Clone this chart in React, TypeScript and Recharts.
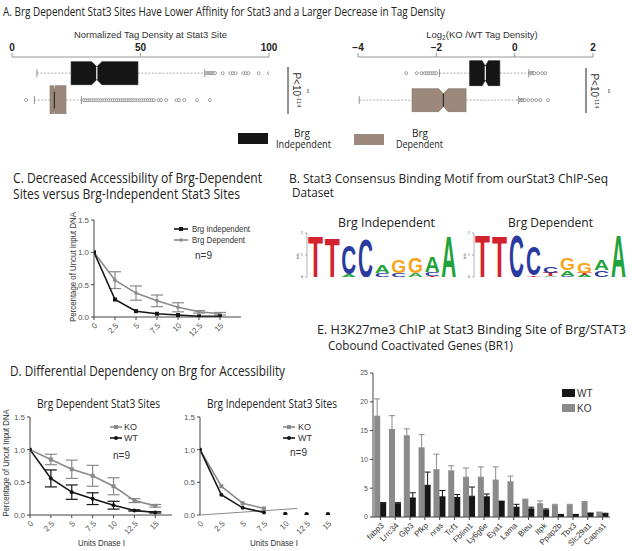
import React from 'react';
import {
  BarChart,
  Bar,
  ComposedChart,
  LineChart,
  Line,
  XAxis,
  YAxis,
  ErrorBar,
  ReferenceLine,
} from 'recharts';

const TITLE_FONT = '"Open Sans", "Noto Sans", sans-serif';
const AXIS_FONT = '"Liberation Sans", Arial, sans-serif';
const BLACK = '#161616';
const BROWN = '#9c897b';
const GREY = '#8a8a8a';

// ---- A. boxplots (tag density and log2 KO/WT)
const BOX_ROWS = ['Brg Independent', 'Brg Dependent'];
const TAG_TICKS = [0, 50, 100];
const TAG_WHISKERS = [[9.7, 75], [8.7, 27]];
const TAG_QUARTILES = [[23, 49], [14.8, 21]];
const TAG_MEDIANS = [33, 16.5];
const TAG_NOTCHES = [[31, 35], [16.2, 16.8]];
const TAG_OUTLIERS = [
  [75.5, 76, 76.5, 77, 77.5, 78, 78.5, 79, 82, 85, 86, 87, 90, 91, 92, 96, 100, 103],
  [
    5.5, 28, 28.8, 29.6, 30.4, 31.2, 32, 32.8, 33.6, 34.4, 35.2, 36, 36.8, 37.6, 38.4, 39.2,
    40, 40.8, 41.6, 42.4, 43.2, 44, 44.8, 45.6, 46.4, 47.2, 48, 48.8, 49.6, 50.4, 51.2, 52,
    52.8, 53.6, 54.4, 55.2, 57, 58, 60, 64, 65, 67, 72, 77,
  ],
];
const LOG_TICKS = [-4, -2, 0, 2];
const LOG_WHISKERS = [[-1.92, 0.36], [-3.97, 0.1]];
const LOG_QUARTILES = [[-1.15, -0.38], [-2.62, -1.24]];
const LOG_MEDIANS = [-0.75, -1.82];
const LOG_NOTCHES = [[-0.83, -0.67], [-1.94, -1.7]];
const LOG_OUTLIERS = [
  [-2.77, -2.5, -2.38, -2.3, -2.25, -2.2, -2.15, -2.1, -2.05, -2.0, 0.4, 0.42, 0.45, 0.48, 0.5, 0.6, 0.7, 0.78],
  [
    -4.95, -4.9, -4.85, -4.8, -4.75, -4.7, -4.65, -4.6, -4.55, -4.5, -4.45, -4.4, -4.35, -4.3,
    -4.25, -4.2, -4.15, -4.1, -4.05, 0.12, 0.15, 0.18, 0.2, 0.23, 0.26, 0.35, 0.45, 0.55, 0.65, 0.85,
  ],
];

// ---- C. accessibility
const DNASE_UNITS = [0, 2.5, 5, 7.5, 10, 12.5, 15];
const C_INDEP = [1.0, 0.27, 0.09, 0.05, 0.03, 0.01, 0.01];
const C_DEP = [1.0, 0.57, 0.37, 0.25, 0.15, 0.08, 0.05];
const C_DEP_ERR = [0, 0.13, 0.11, 0.09, 0.07, 0.02, 0.02];

// ---- D. KO vs WT accessibility
const D_DEP_KO = [1.0, 0.85, 0.7, 0.6, 0.44, 0.22, 0.14];
const D_DEP_KO_ERR = [0, 0.08, 0.14, 0.16, 0.13, 0.03, 0.02];
const D_DEP_WT = [1.0, 0.56, 0.35, 0.25, 0.15, 0.07, 0.04];
const D_DEP_WT_ERR = [0, 0.13, 0.11, 0.09, 0.06, 0.01, 0.01];
const D_IND_KO = [1.0, 0.44, 0.18, 0.1, null, null, null];
const D_IND_WT = [1.0, 0.31, 0.11, 0.04, null, null, null];
const D_IND_WT_TAIL = [null, null, null, null, 0.015, 0.012, 0.012];
const D_IND_BASE_X = [0, 11.4];
const D_IND_BASE_Y = [0, 0.1];

// ---- B. motif logos (letters stacked bottom -> top)
const MOTIF_POS = [1, 2, 3, 4, 5, 6, 7, 8, 9];
const INDEP_LETTERS = ['T', 'T', 'AC', 'C', 'CA', 'CG', 'AG', 'TCA', 'A'];
const INDEP_BITS = [[1.9], [1.8], [0.12, 1.3], [1.75], [0.2, 0.35], [0.2, 0.6], [0.2, 0.7], [0.05, 0.2, 0.75], [1.9]];
const DEP_LETTERS = ['T', 'T', 'C', 'TC', 'ATC', 'CAG', 'ATG', 'CA', 'A'];
const DEP_BITS = [[1.95], [1.9], [1.95], [0.08, 1.3], [0.05, 0.15, 0.3], [0.05, 0.25, 0.55], [0.1, 0.1, 0.45], [0.3, 0.5], [1.95]];

// ---- E. H3K27me3 ChIP
const GENES = [
  'fabp3', 'Lrrc34', 'Gjb3', 'Pfkp', 'nras', 'Tcf1', 'Fblim1', 'Ly6g6e',
  'Eya1', 'Lama', 'Bleu', 'Itpk', 'Ppap2b', 'Tbx3', 'Slc29a1', 'Capns1',
];
const E_KO = [17.5, 15.2, 14.1, 12.0, 8.2, 8.0, 6.9, 6.9, 6.4, 6.1, 3.0, 2.3, 2.0, 2.0, 2.5, 0.8];
const E_KO_ERR = [3.0, 2.4, 1.2, 2.3, 2.7, 0.9, 1.6, 1.8, 2.3, 1.0, 0.1, 0.5, 0.2, 0.2, 0.2, 0.05];
const E_WT = [2.4, 2.3, 3.3, 5.5, 3.5, 3.4, 3.6, 3.5, 2.7, 1.7, 1.4, 1.2, 0.4, 0.4, 0.6, 0.55];
const E_WT_ERR = [0.1, 0.2, 0.9, 2.3, 1.1, 0.5, 1.6, 0.5, 0.05, 0.5, 0.3, 0.2, 0.05, 0.05, 0.1, 0.1];

const LETTER_COLOR: Record<string, string> = { A: '#22a23a', C: '#2b3a9f', G: '#f7a51b', T: '#d3232f' };

const tagRows = BOX_ROWS.map((row, i) => ({
  row, span: TAG_WHISKERS[i], q: TAG_QUARTILES[i], med: TAG_MEDIANS[i], notch: TAG_NOTCHES[i], out: TAG_OUTLIERS[i],
}));
const logRows = BOX_ROWS.map((row, i) => ({
  row, span: LOG_WHISKERS[i], q: LOG_QUARTILES[i], med: LOG_MEDIANS[i], notch: LOG_NOTCHES[i], out: LOG_OUTLIERS[i],
}));
const cData = DNASE_UNITS.map((u, i) => ({ u, indep: C_INDEP[i], dep: C_DEP[i], depErr: C_DEP_ERR[i] }));
const dDepData = DNASE_UNITS.map((u, i) => ({
  u, ko: D_DEP_KO[i], koErr: D_DEP_KO_ERR[i], wt: D_DEP_WT[i], wtErr: D_DEP_WT_ERR[i],
}));
const dIndData = DNASE_UNITS.map((u, i) => ({ u, ko: D_IND_KO[i], wt: D_IND_WT[i], tail: D_IND_WT_TAIL[i] }));
const eData = GENES.map((gene, i) => ({
  gene, ko: E_KO[i], koErr: [0, E_KO_ERR[i]], wt: E_WT[i], wtErr: [0, E_WT_ERR[i]],
}));
const motifRows = (letters: string[], bits: number[][]) =>
  MOTIF_POS.map((pos, i) => {
    const row: any = { pos };
    bits[i].forEach((b, s) => {
      row['h' + s] = b;
      row['l' + s] = letters[i][s];
    });
    return row;
  });
const indepMotif = motifRows(INDEP_LETTERS, INDEP_BITS);
const depMotif = motifRows(DEP_LETTERS, DEP_BITS);

// box heights / fills per row
const TAG_BOX_H = [23, 29];
const LOG_BOX_H = [25, 23];
const BOX_FILL = [BLACK, BROWN];
const MEDIAN_STROKE = ['#ffffff', '#2a2a2a'];

const makeBoxShape = (boxH: number[]) => (props: any) => {
  const { x, y, width, height, payload, index } = props;
  const [lo, hi] = payload.span;
  const px = (v: number) => x + (width * (v - lo)) / (hi - lo);
  const cy = y + height / 2;
  const h = boxH[index];
  const top = cy - h / 2;
  const bot = cy + h / 2;
  const x1 = px(payload.q[0]);
  const x2 = px(payload.q[1]);
  const n1 = px(payload.notch[0]);
  const n2 = px(payload.notch[1]);
  const m = px(payload.med);
  const ind = h * 0.22;
  const pts = `${x1},${top} ${n1},${top} ${m},${top + ind} ${n2},${top} ${x2},${top} ${x2},${bot} ${n2},${bot} ${m},${bot - ind} ${n1},${bot} ${x1},${bot}`;
  return (
    <g>
      <line x1={px(lo)} x2={x1} y1={cy} y2={cy} stroke="#999" strokeWidth={0.8} strokeDasharray="2 1.5" />
      <line x1={x2} x2={px(hi)} y1={cy} y2={cy} stroke="#999" strokeWidth={0.8} strokeDasharray="2 1.5" />
      <line x1={px(lo)} x2={px(lo)} y1={cy - 4} y2={cy + 4} stroke="#777" strokeWidth={0.8} />
      <line x1={px(hi)} x2={px(hi)} y1={cy - 4} y2={cy + 4} stroke="#777" strokeWidth={0.8} />
      <polygon points={pts} fill={BOX_FILL[index]} stroke={index === 0 ? BLACK : '#7d6c60'} strokeWidth={0.6} />
      <line x1={m} x2={m} y1={top + ind} y2={bot - ind} stroke={MEDIAN_STROKE[index]} strokeWidth={1.2} />
      {payload.out.map((v: number, k: number) => (
        <circle key={k} cx={px(v)} cy={cy} r={1.5} fill="#fff" stroke="#666" strokeWidth={0.6} />
      ))}
    </g>
  );
};

const letterShape = (slot: number) => (props: any) => {
  const { x, y, width, height, payload } = props;
  const ch = payload['l' + slot];
  if (!ch || !(height > 0.3)) return <g />;
  return (
    <text
      x={0}
      y={0}
      transform={`translate(${x},${y + height}) scale(${width / 70},${height / 72})`}
      fontSize={100}
      fontWeight={700}
      fontFamily={AXIS_FONT}
      textLength={70}
      lengthAdjust="spacingAndGlyphs"
      fill={LETTER_COLOR[ch]}
    >
      {ch}
    </text>
  );
};

const squareDot = (color: string, s: number) => (p: any) =>
  p.cy == null ? <g key={p.index} /> : <rect key={p.index} x={p.cx - s / 2} y={p.cy - s / 2} width={s} height={s} fill={color} />;
const circleDot = (color: string, r: number) => (p: any) =>
  p.cy == null ? <g key={p.index} /> : <circle key={p.index} cx={p.cx} cy={p.cy} r={r} fill={color} />;

const tickStyle = { fontSize: 8, fill: '#555', fontFamily: AXIS_FONT };
const axisStroke = { stroke: '#444' };

function BoxPanel({ rows, ticks, domain, boxH, tickFmt }: any) {
  return (
    <ComposedChart layout="vertical" width={rows === tagRows ? 300 : 312} height={89} data={rows}
      margin={{ top: 12, right: rows === tagRows ? 31 : 39, bottom: 0, left: rows === tagRows ? 12 : 38 }}>
      <XAxis type="number" orientation="top" domain={domain} ticks={ticks} height={20} allowDataOverflow
        tickFormatter={tickFmt}
        tick={{ fontSize: 10, fontWeight: 700, fill: '#222', fontFamily: AXIS_FONT }}
        axisLine={{ stroke: '#999' }} tickLine={{ stroke: '#999' }} tickSize={4} />
      <YAxis type="category" dataKey="row" hide padding={{ top: 3, bottom: 0 }} />
      <Bar dataKey="span" barSize={30} isAnimationActive={false} shape={makeBoxShape(boxH)} />
    </ComposedChart>
  );
}

export default function App() {
  const abs = (left: number, top: number): React.CSSProperties => ({ position: 'absolute', left, top });
  return (
    <div style={{ position: 'absolute', left: 0, top: 0, width: 632, height: 551, background: '#fff', overflow: 'hidden' }}>
      {/* A left */}
      <div style={abs(0, 25)}>
        <BoxPanel rows={tagRows} ticks={TAG_TICKS} domain={[0, 100]} boxH={TAG_BOX_H} />
      </div>
      {/* A right */}
      <div style={abs(320, 25)}>
        <BoxPanel rows={logRows} ticks={LOG_TICKS} domain={[-4, 2]} boxH={LOG_BOX_H}
          tickFmt={(v: number) => String(v).replace('-', '\u2212')} />
      </div>

      {/* C */}
      <div style={abs(60, 205)}>
        <LineChart width={200} height={145} data={cData} margin={{ top: 15, right: 19, bottom: 3, left: 0 }}>
          <XAxis dataKey="u" type="number" domain={[0, 17.5]} ticks={DNASE_UNITS} interval={0} angle={-45}
            textAnchor="end" height={30} tick={tickStyle} tickSize={3} axisLine={axisStroke} tickLine={axisStroke} allowDataOverflow />
          <YAxis domain={[0, 1.5]} ticks={[0, 0.5, 1, 1.5]} tickFormatter={(v: number) => v.toFixed(1)} width={34}
            tick={tickStyle} tickSize={3} axisLine={axisStroke} tickLine={axisStroke} allowDataOverflow />
          <Line dataKey="dep" stroke={GREY} strokeWidth={1.6} dot={circleDot(GREY, 1.8)} isAnimationActive={false}>
            <ErrorBar dataKey="depErr" width={6} stroke={GREY} strokeWidth={1.2} direction="y" />
          </Line>
          <Line dataKey="indep" stroke={BLACK} strokeWidth={1.6} dot={squareDot(BLACK, 4)} isAnimationActive={false} />
        </LineChart>
      </div>

      {/* B logos */}
      <div style={abs(295, 230)}>
        <BarChart width={165} height={50} data={indepMotif} margin={{ top: 3, right: 3, bottom: 3, left: 0 }} barCategoryGap={1}>
          <XAxis dataKey="pos" hide />
          <YAxis domain={[0, 2]} ticks={[0, 1, 2]} width={12} tick={{ fontSize: 4, fill: '#444' }} tickSize={2}
            axisLine={{ stroke: '#666', strokeWidth: 0.5 }} tickLine={{ stroke: '#666', strokeWidth: 0.5 }} allowDataOverflow />
          {[0, 1, 2].map((s) => (
            <Bar key={s} dataKey={'h' + s} stackId="m" shape={letterShape(s)} isAnimationActive={false} />
          ))}
        </BarChart>
      </div>
      <div style={abs(462, 230)}>
        <BarChart width={168} height={50} data={depMotif} margin={{ top: 3, right: 3, bottom: 3, left: 0 }} barCategoryGap={1}>
          <XAxis dataKey="pos" hide />
          <YAxis domain={[0, 2]} ticks={[0, 1, 2]} width={12} tick={{ fontSize: 4, fill: '#444' }} tickSize={2}
            axisLine={{ stroke: '#666', strokeWidth: 0.5 }} tickLine={{ stroke: '#666', strokeWidth: 0.5 }} allowDataOverflow />
          {[0, 1, 2].map((s) => (
            <Bar key={s} dataKey={'h' + s} stackId="m" shape={letterShape(s)} isAnimationActive={false} />
          ))}
        </BarChart>
      </div>

      {/* D left */}
      <div style={abs(0, 405)}>
        <LineChart width={180} height={145} data={dDepData} margin={{ top: 12, right: 8, bottom: 3, left: 0 }}>
          <XAxis dataKey="u" type="number" domain={[0, 17]} ticks={DNASE_UNITS} interval={0} angle={-45}
            textAnchor="end" height={32} tick={tickStyle} tickSize={3} axisLine={axisStroke} tickLine={axisStroke} allowDataOverflow />
          <YAxis domain={[0, 1.5]} ticks={[0, 0.5, 1, 1.5]} tickFormatter={(v: number) => v.toFixed(1)} width={30}
            tick={tickStyle} tickSize={3} axisLine={axisStroke} tickLine={axisStroke} allowDataOverflow />
          <Line dataKey="ko" stroke={GREY} strokeWidth={1.6} dot={squareDot(GREY, 4)} isAnimationActive={false}>
            <ErrorBar dataKey="koErr" width={6} stroke={GREY} strokeWidth={1.2} direction="y" />
          </Line>
          <Line dataKey="wt" stroke={BLACK} strokeWidth={1.6} dot={circleDot(BLACK, 2)} isAnimationActive={false}>
            <ErrorBar dataKey="wtErr" width={6} stroke={BLACK} strokeWidth={1.2} direction="y" />
          </Line>
        </LineChart>
      </div>

      {/* D right */}
      <div style={abs(170, 405)}>
        <LineChart width={180} height={145} data={dIndData} margin={{ top: 12, right: 5, bottom: 3, left: 0 }}>
          <XAxis dataKey="u" type="number" domain={[0, 17]} ticks={DNASE_UNITS} interval={0} angle={-45}
            textAnchor="end" height={32} tick={tickStyle} tickSize={3} axisLine={false} tickLine={false} allowDataOverflow />
          <YAxis domain={[0, 1.5]} ticks={[0, 0.5, 1, 1.5]} tickFormatter={(v: number) => v.toFixed(1)} width={30}
            tick={tickStyle} tickSize={3} axisLine={axisStroke} tickLine={axisStroke} allowDataOverflow />
          <ReferenceLine
            segment={[
              { x: D_IND_BASE_X[0], y: D_IND_BASE_Y[0] },
              { x: D_IND_BASE_X[1], y: D_IND_BASE_Y[1] },
            ]}
            stroke="#888" strokeWidth={1} ifOverflow="visible" />
          <Line dataKey="ko" stroke={GREY} strokeWidth={1.6} dot={squareDot(GREY, 4)} isAnimationActive={false} />
          <Line dataKey="wt" stroke={BLACK} strokeWidth={1.6} dot={circleDot(BLACK, 2)} isAnimationActive={false} />
          <Line dataKey="tail" stroke="none" dot={circleDot(BLACK, 2.2)} isAnimationActive={false} />
        </LineChart>
      </div>

      {/* E */}
      <div style={abs(330, 360)}>
        <BarChart width={290} height={190} data={eData} margin={{ top: 13, right: 10, bottom: 3, left: 0 }}
          barCategoryGap="8%" barGap={0}>
          <XAxis dataKey="gene" interval={0} angle={-45} textAnchor="end" height={30}
            tick={{ fontSize: 8, fill: '#333', fontFamily: AXIS_FONT }} tickSize={3} axisLine={axisStroke} tickLine={axisStroke} />
          <YAxis domain={[0, 25]} ticks={[0, 5, 10, 15, 20, 25]} width={43} tick={{ fontSize: 7, fill: '#555', fontFamily: AXIS_FONT }}
            tickSize={3} axisLine={axisStroke} tickLine={axisStroke} allowDataOverflow />
          <Bar dataKey="ko" fill={GREY} isAnimationActive={false}>
            <ErrorBar dataKey="koErr" width={3} stroke={GREY} strokeWidth={1} direction="y" />
          </Bar>
          <Bar dataKey="wt" fill={BLACK} isAnimationActive={false}>
            <ErrorBar dataKey="wtErr" width={3} stroke={BLACK} strokeWidth={1} direction="y" />
          </Bar>
        </BarChart>
      </div>

      {/* titles, labels, legends */}
      <svg width={632} height={551} style={{ position: 'absolute', left: 0, top: 0, pointerEvents: 'none' }}>
        <g fontFamily={TITLE_FONT} fill="#222">
          <text x={3} y={16} fontSize={13} textLength={442} lengthAdjust="spacingAndGlyphs">
            A. Brg Dependent Stat3 Sites Have Lower Affinity for Stat3 and a Larger Decrease in Tag Density
          </text>
          <text x={13} y={183} fontSize={14} textLength={249} lengthAdjust="spacingAndGlyphs">C. Decreased Accessibility of Brg-Dependent</text>
          <text x={13} y={199} fontSize={14} textLength={227} lengthAdjust="spacingAndGlyphs">Sites versus Brg-Independent Stat3 Sites</text>
          <text x={289} y={183} fontSize={13} textLength={319} lengthAdjust="spacingAndGlyphs">B. Stat3 Consensus Binding Motif from ourStat3 ChIP-Seq</text>
          <text x={292} y={197} fontSize={13} textLength={42} lengthAdjust="spacingAndGlyphs">Dataset</text>
          <text x={338} y={227} fontSize={12} textLength={97} lengthAdjust="spacingAndGlyphs">Brg Independent</text>
          <text x={508} y={227} fontSize={12} textLength={85} lengthAdjust="spacingAndGlyphs">Brg Dependent</text>
          <text x={10} y={376} fontSize={14} textLength={275} lengthAdjust="spacingAndGlyphs">D. Differential Dependency on Brg for Accessibility</text>
          <text x={37} y={408} fontSize={12} textLength={123} lengthAdjust="spacingAndGlyphs">Brg Dependent Stat3 Sites</text>
          <text x={207} y={408} fontSize={12} textLength={130} lengthAdjust="spacingAndGlyphs">Brg Independent Stat3 Sites</text>
          <text x={317} y={334} fontSize={13} textLength={309} lengthAdjust="spacingAndGlyphs">E.  H3K27me3 ChIP at Stat3 Binding Site  of Brg/STAT3</text>
          <text x={328} y={350} fontSize={13} textLength={185} lengthAdjust="spacingAndGlyphs">Cobound Coactivated Genes (BR1)</text>
          {/* A legend */}
          <rect x={238} y={133} width={30} height={11} fill={BLACK} />
          <text x={302} y={137} fontSize={10} textAnchor="middle">Brg</text>
          <text x={276} y={148} fontSize={10} textLength={55} lengthAdjust="spacingAndGlyphs">Independent</text>
          <rect x={354} y={134} width={30} height={11} fill={BROWN} />
          <text x={420} y={137} fontSize={10} textAnchor="middle">Brg</text>
          <text x={396} y={148} fontSize={10} textLength={47} lengthAdjust="spacingAndGlyphs">Dependent</text>
        </g>
        <g fontFamily={AXIS_FONT} fill="#333">
          <text x={74} y={38} fontSize={9.5} textLength={153} lengthAdjust="spacingAndGlyphs">Normalized Tag Density at Stat3 Site</text>
          <text x={482} y={38} fontSize={9.5} textAnchor="middle">
            Log<tspan fontSize={6.5} dy={2}>2</tspan><tspan dy={-2}>(KO /WT Tag Density)</tspan>
          </text>
          {/* p-value brackets */}
          <line x1={288} x2={288} y1={67} y2={114} stroke="#222" strokeWidth={1} />
          <text transform="translate(293,90) rotate(90)" fontSize={10} textAnchor="middle">
            P&lt;10<tspan fontSize={6} dy={-4}>-114</tspan>
          </text>
          <text transform="translate(305,91) rotate(90)" fontSize={6} textAnchor="middle">**</text>
          <line x1={586} x2={586} y1={68} y2={113} stroke="#222" strokeWidth={1} />
          <text transform="translate(591,91) rotate(90)" fontSize={10} textAnchor="middle">
            P&lt;10<tspan fontSize={6} dy={-4}>-114</tspan>
          </text>
          <text transform="translate(606,91) rotate(90)" fontSize={6} textAnchor="middle">**</text>
          {/* y labels */}
          <text transform="translate(76,267) rotate(-90)" fontSize={9} textAnchor="middle" textLength={110} lengthAdjust="spacingAndGlyphs">Percentage of Uncut Input DNA</text>
          <text transform="translate(8.5,463) rotate(-90)" fontSize={9} textAnchor="middle" textLength={107} lengthAdjust="spacingAndGlyphs">Percentage of Uncut Input DNA</text>
          <text transform="translate(299,256) rotate(-90)" fontSize={3.5} textAnchor="middle">bits</text>
          <text transform="translate(466,256) rotate(-90)" fontSize={3.5} textAnchor="middle">bits</text>
          <text x={78} y={546} fontSize={9} textLength={47} lengthAdjust="spacingAndGlyphs">Units Dnase I</text>
          <text x={250} y={546} fontSize={9} textLength={48} lengthAdjust="spacingAndGlyphs">Units Dnase I</text>
          {/* C legend */}
          <line x1={174} x2={188} y1={229} y2={229} stroke={BLACK} strokeWidth={1.6} />
          <rect x={179} y={227} width={4} height={4} fill={BLACK} />
          <text x={192} y={232} fontSize={8.5} textLength={58} lengthAdjust="spacingAndGlyphs">Brg Independent</text>
          <line x1={174} x2={188} y1={240} y2={240} stroke={GREY} strokeWidth={1.6} />
          <circle cx={181} cy={240} r={1.8} fill={GREY} />
          <text x={192} y={243} fontSize={8.5} textLength={53} lengthAdjust="spacingAndGlyphs">Brg Dependent</text>
          <text x={195} y={259} fontSize={10}>n=9</text>
          {/* D legends */}
          <line x1={110} x2={122} y1={427} y2={427} stroke={GREY} strokeWidth={1.6} />
          <rect x={114} y={425} width={4} height={4} fill={GREY} />
          <text x={124} y={430} fontSize={9}>KO</text>
          <line x1={110} x2={122} y1={438} y2={438} stroke={BLACK} strokeWidth={1.6} />
          <circle cx={116} cy={438} r={2} fill={BLACK} />
          <text x={124} y={441} fontSize={9}>WT</text>
          <text x={113} y={459} fontSize={10}>n=9</text>
          <line x1={283} x2={295} y1={427} y2={427} stroke={GREY} strokeWidth={1.6} />
          <rect x={287} y={425} width={4} height={4} fill={GREY} />
          <text x={298} y={430} fontSize={9}>KO</text>
          <line x1={283} x2={295} y1={438} y2={438} stroke={BLACK} strokeWidth={1.6} />
          <circle cx={289} cy={438} r={2} fill={BLACK} />
          <text x={298} y={441} fontSize={9}>WT</text>
          <text x={290} y={456} fontSize={10}>n=9</text>
          {/* E legend */}
          <rect x={562} y={389} width={13} height={8} fill={BLACK} />
          <text x={577} y={397} fontSize={10}>WT</text>
          <rect x={562} y={404} width={13} height={8} fill={GREY} />
          <text x={577} y={412} fontSize={10}>KO</text>
        </g>
      </svg>
    </div>
  );
}
